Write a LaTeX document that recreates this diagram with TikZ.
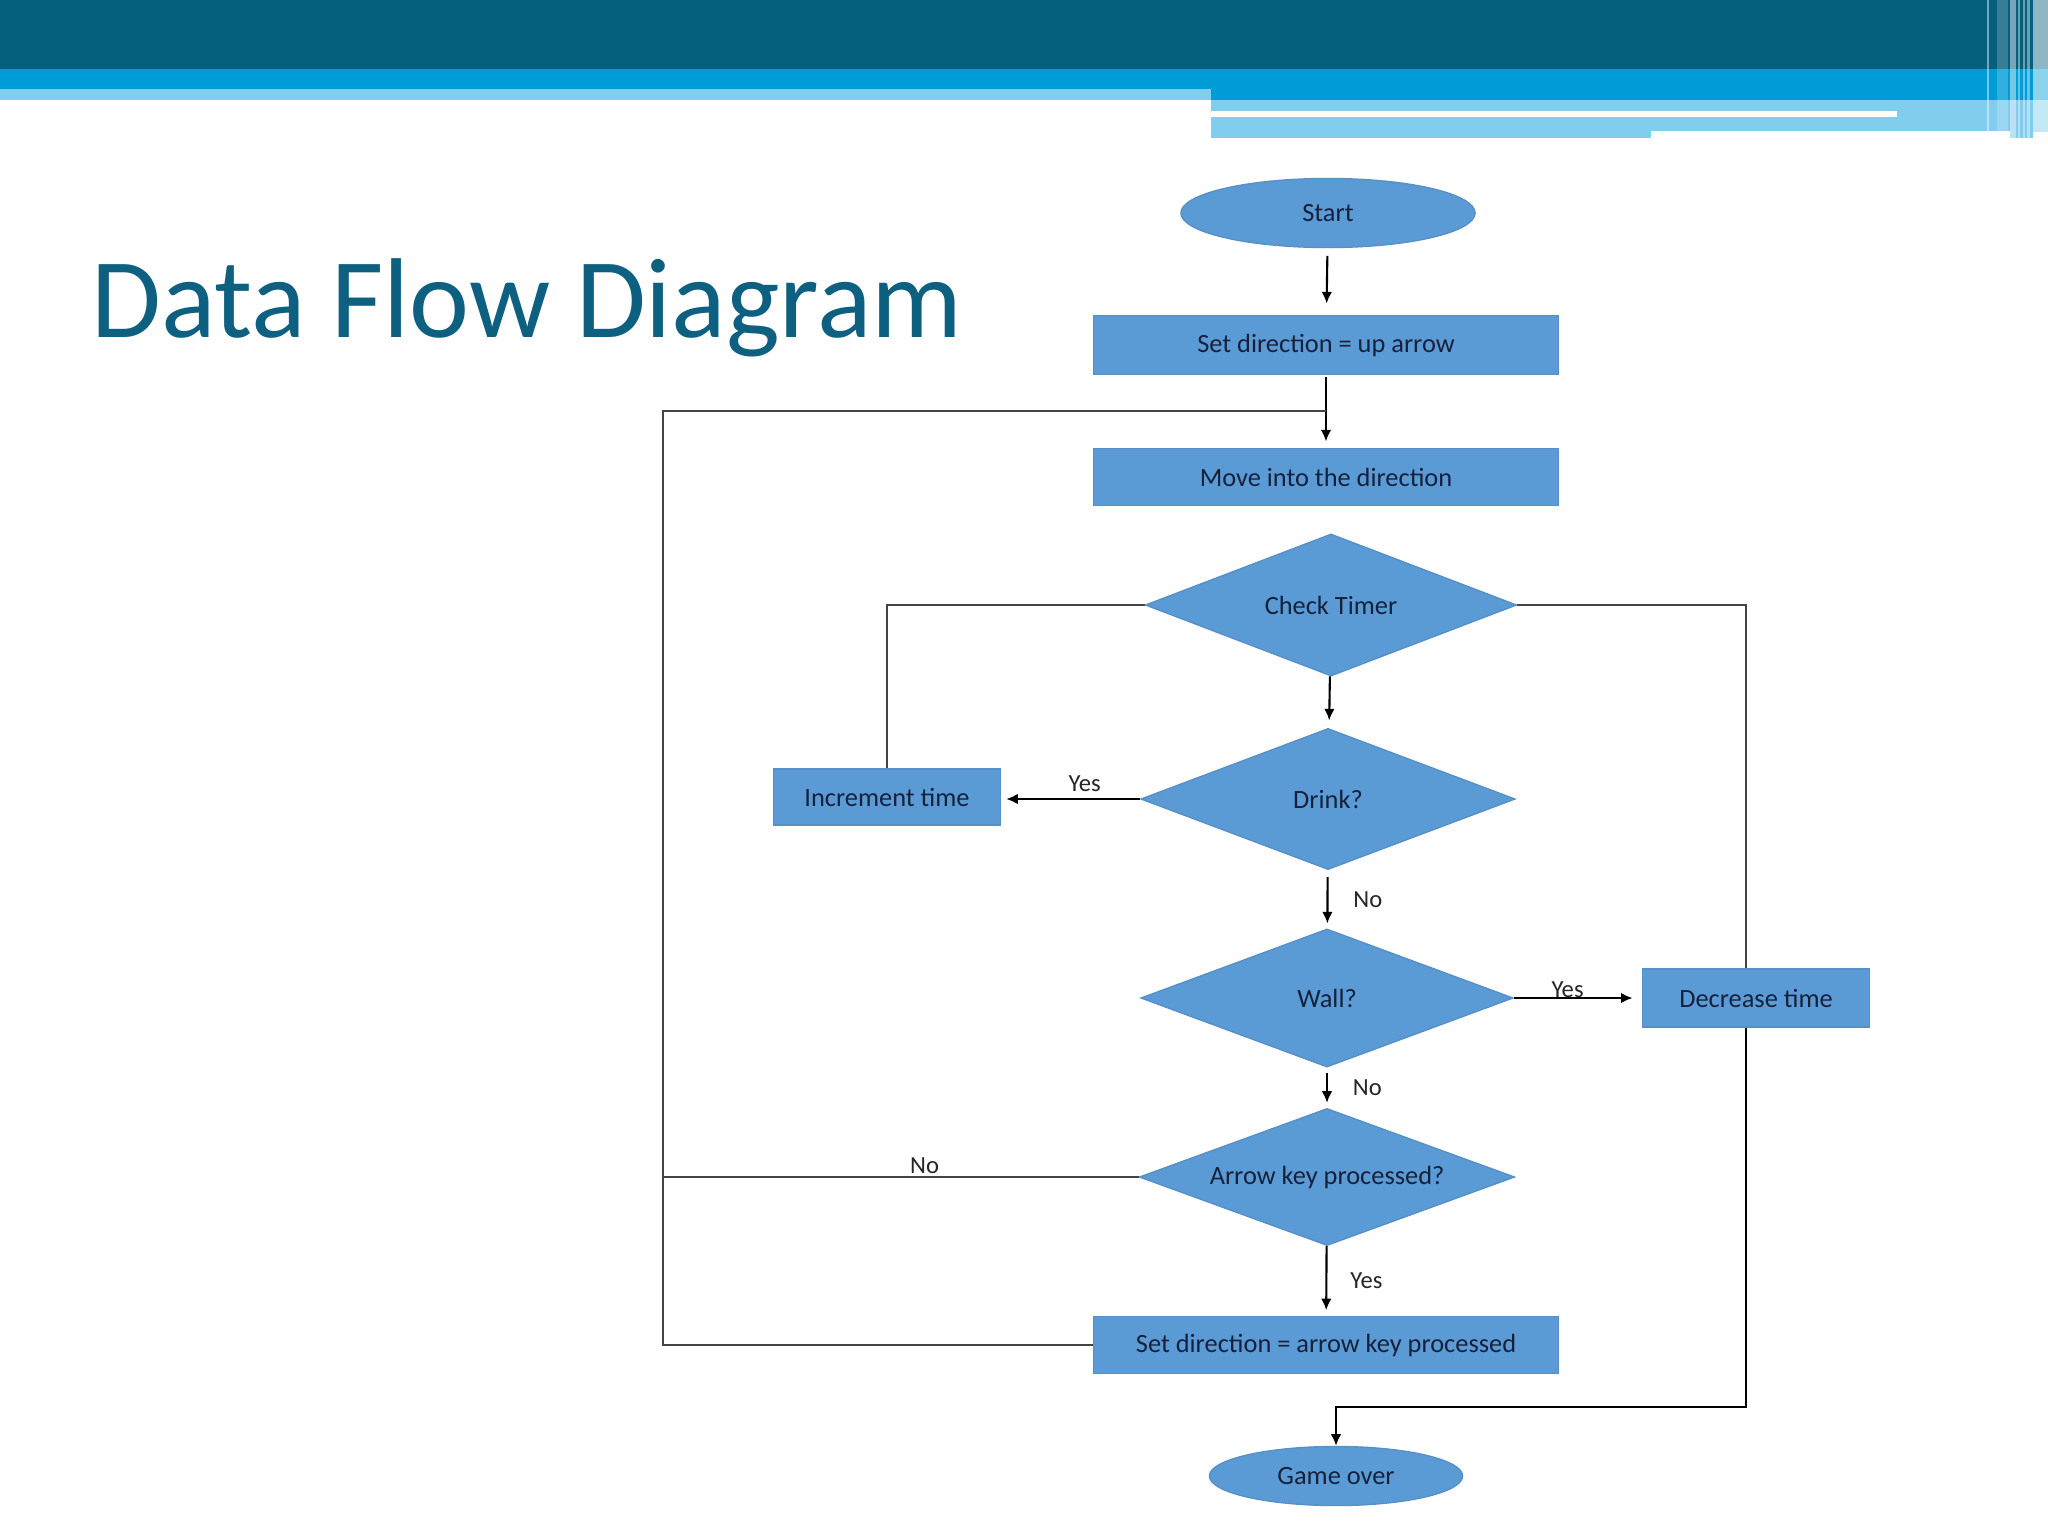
\documentclass[tikz,border=0pt]{standalone}
\usepackage{fontspec}
\setmainfont{Carlito}
\usetikzlibrary{shapes.geometric,arrows.meta}
\definecolor{bandDark}{HTML}{05607D}
\definecolor{bandMid}{HTML}{009CD8}
\definecolor{bandLight}{HTML}{80CDED}
\definecolor{titleC}{HTML}{0E6080}
\definecolor{boxC}{HTML}{5B9BD5}
\definecolor{boxLine}{HTML}{5790C8}
\definecolor{txtC}{HTML}{15213C}
\definecolor{lineC}{HTML}{444444}
\tikzset{
  procbox/.style={rectangle, fill=boxC, draw=boxLine, line width=0.4pt, text=txtC,
    font=\fontsize{7.5}{9}\selectfont, inner sep=0pt},
  term/.style={ellipse, fill=boxC, draw=boxLine, line width=0.4pt, text=txtC,
    font=\fontsize{7.5}{9}\selectfont, inner sep=0pt},
  decision/.style={diamond, aspect=2.6, fill=boxC, draw=boxLine, line width=0.4pt, text=txtC,
    font=\fontsize{7.5}{9}\selectfont, inner sep=0pt},
  flow/.style={-{Latex[length=3.3pt,width=3pt]}, line width=0.6pt, draw=black},
  loopline/.style={line width=0.55pt, draw=lineC},
  lbl/.style={font=\fontsize{7}{8}\selectfont, text=black!85, inner sep=0.8pt},
  stripe/.style={fill=white}
}
\begin{document}
\begin{tikzpicture}[x=0.01cm,y=-0.01cm]
\useasboundingbox (0,0) rectangle (2048,1536);
\fill[white] (0,0) rectangle (2048,1536);
% banner
\fill[bandDark] (0,0) rectangle (2048,69);
\fill[bandMid] (0,69) rectangle (2048,100);
\fill[bandLight] (0,89) rectangle (1211,100);
\fill[bandLight] (1211,100) rectangle (2048,138);
\fill[white] (1211,111) rectangle (1897,117);
\fill[white] (1651,131) rectangle (2010,138);
\fill[white] (2033,132) rectangle (2048,138);
\fill[stripe, opacity=0.45] (1987,0) rectangle (1989,132);
\fill[stripe, opacity=0.2] (1997,0) rectangle (2008,132);
\fill[stripe, opacity=0.45] (2010,0) rectangle (2016,138);
\fill[stripe, opacity=0.4] (2018,0) rectangle (2020,138);
\fill[stripe, opacity=0.4] (2023,0) rectangle (2025,138);
\fill[stripe, opacity=0.4] (2027,0) rectangle (2030,138);
\fill[stripe, opacity=0.55] (2033,0) rectangle (2048,132);
% title
\node[anchor=base west, inner sep=0pt, text=titleC, font=\fontsize{32.3}{38}\selectfont] (title) at (91,337) {Data Flow Diagram};
% nodes
\node[term, minimum width=2.94cm, minimum height=0.69cm] (start) at (1328,213) {Start};
\node[procbox, minimum width=4.65cm, minimum height=0.59cm] (setdir) at (1326,345) {Set direction = up arrow};
\node[procbox, minimum width=4.65cm, minimum height=0.57cm] (move) at (1326,477) {Move into the direction};
\node[decision, minimum width=3.71cm, minimum height=1.42cm] (timer) at (1331,605) {Check Timer};
\node[decision, minimum width=3.74cm, minimum height=1.41cm] (drink) at (1328,799) {Drink?};
\node[procbox, minimum width=2.27cm, minimum height=0.56cm] (inc) at (887,797) {Increment time};
\node[decision, minimum width=3.72cm, minimum height=1.38cm] (wall) at (1327,998) {Wall?};
\node[procbox, minimum width=2.27cm, minimum height=0.58cm] (dec) at (1756,998) {Decrease time};
\node[decision, minimum width=3.75cm, minimum height=1.37cm] (akey) at (1327,1177) {Arrow key processed?};
\node[procbox, minimum width=4.65cm, minimum height=0.57cm] (setkey) at (1326,1345) {Set direction = arrow key processed};
\node[term, minimum width=2.53cm, minimum height=0.59cm] (over) at (1336,1476) {Game over};
% helper coordinates
\coordinate (j1) at (1326,411);
\coordinate (lt) at (663,411);
\coordinate (lb) at (663,1345);
\coordinate (rt) at (1746,605);
\coordinate (rb) at (1746,1407);
\coordinate (go) at (1336,1407);
% connectors
\draw[flow, shorten <=2.2pt, shorten >=3.2pt] (start) -- (setdir);
\draw[flow, shorten <=0.6pt, shorten >=1.8pt] (setdir) -- (move);
\draw[loopline] (setkey.west) -- (lb) -- (lt) -- (j1);
\draw[loopline] (akey.west) -- (akey.west -| lb) node[lbl, above, pos=0.45] {No};
\draw[loopline] (inc.north) |- (timer.west);
\draw[flow, shorten >=2.2pt] (timer) -- (drink);
\draw[flow, shorten >=1.4pt] (drink.west) -- (drink.west -| inc.east) node[lbl, above=1pt, pos=0.4] {Yes};
\draw[flow, shorten <=2pt, shorten >=1.4pt] (drink) -- (wall) node[lbl, right=2.2mm, midway] {No};
\draw[flow, shorten >=2.6pt] (wall.east) -- (dec.west) node[lbl, above=-1pt, pos=0.42] {Yes};
\draw[flow, shorten <=1.6pt, shorten >=1.4pt] (wall) -- (akey) node[lbl, right=2.2mm, midway] {No};
\draw[flow, shorten >=1.6pt] (akey) -- (setkey) node[lbl, right=2mm, midway] {Yes};
\draw[loopline] (timer.east) -- (rt) -- (dec.north -| rt);
\draw[flow] (dec.south -| rt) -- (rb) -- (go) -- (over);
\end{tikzpicture}
\end{document}
